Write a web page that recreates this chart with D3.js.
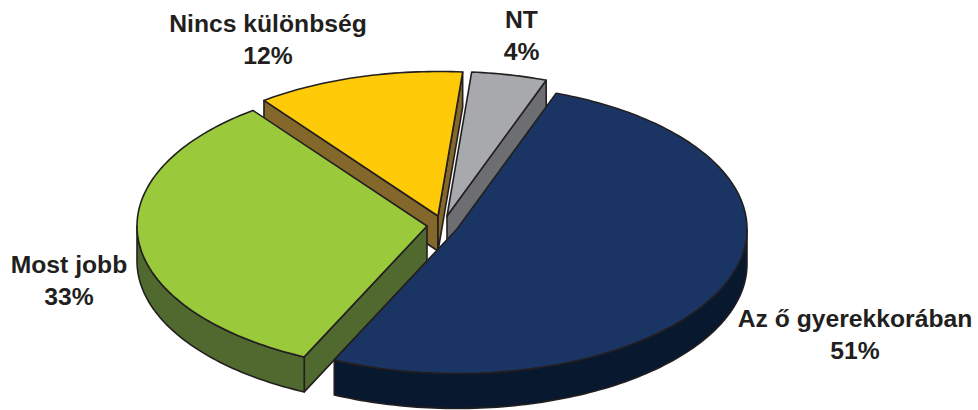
<!DOCTYPE html>
<html>
<head>
<meta charset="utf-8">
<script src="https://cdn.jsdelivr.net/npm/d3@7"></script>
<style>
body{margin:0;background:#fff;}
text{font-family:"Liberation Sans",Arial,sans-serif;font-weight:bold;font-size:24.7px;fill:#231f20;text-anchor:middle;}
</style>
</head>
<body>
<script>
var categories = ["Az ő gyerekkorában","Most jobb","Nincs különbség","NT"];
var percentLabels = ["51%","33%","12%","4%"];
var shares = [51.4,32.8,11.6,4.2]; // labels are rounded

var topColors = ["#1a3564","#9aca3c","#ffcb08","#a7a9ac"];
var sideColors = ["#07182f","#50692e","#84672a","#6d6e71"];

// each slice is pulled away from the middle by hand
var centers = [[457,229],[427,226],[438,216],[447,216]];
var labelPos = [[855,327],[69,273],[268,31.5],[521.5,27.5]];
var drawOrder = [2,3,1,0]; // back slices first

var rx = 290, ry = 144.5, depth = 35;
var lineGap = 32;

var svg = d3.select("body").append("svg")
	.attr("width",978)
	.attr("height",410);

var pie = d3.pie().sort(null)
	.startAngle(20*Math.PI/180)
	.endAngle(380*Math.PI/180);
var slices = pie(shares);

var line = d3.line().curve(d3.curveLinear);

function edgePoint(a,c,drop){
	return [c[0]+rx*Math.sin(a),c[1]-ry*Math.cos(a)+drop];
}

function rimPoints(from,to,c,drop){ // points along the outer edge of a slice
	var n = Math.ceil((to-from)/0.02);
	return d3.range(n+1).map(function(i){
		return edgePoint(from+(to-from)*i/n,c,drop);
	});
}

function drawShape(pts,color){
	svg.append("path")
		.attr("d",line(pts)+"Z")
		.attr("fill",color)
		.attr("stroke","#231f20")
		.attr("stroke-width",1.6)
		.attr("stroke-linejoin","round");
}

drawOrder.forEach(function(i){
	var s = slices[i], c = centers[i];
	var cLow = [c[0],c[1]+depth];

	// cut faces only show when going down leaves the slice
	if(Math.sin(s.startAngle) < 0){
		drawShape([c,edgePoint(s.startAngle,c,0),edgePoint(s.startAngle,c,depth),cLow],sideColors[i]);
	}
	if(Math.sin(s.endAngle) > 0){
		drawShape([c,edgePoint(s.endAngle,c,0),edgePoint(s.endAngle,c,depth),cLow],sideColors[i]);
	}

	// curved wall, front half of the ellipse only
	var from = Math.max(s.startAngle,Math.PI/2);
	var to = Math.min(s.endAngle,Math.PI*1.5);
	if(from < to){
		drawShape(rimPoints(from,to,c,0).concat(rimPoints(from,to,c,depth).reverse()),sideColors[i]);
	}

	drawShape([c].concat(rimPoints(s.startAngle,s.endAngle,c,0)),topColors[i]);
});

categories.forEach(function(name,i){
	var t = svg.append("text")
		.attr("x",labelPos[i][0])
		.attr("y",labelPos[i][1]);
	t.append("tspan").attr("x",labelPos[i][0]).text(name);
	t.append("tspan").attr("x",labelPos[i][0]).attr("dy",lineGap).text(percentLabels[i]);
});
</script>
</body>
</html>
